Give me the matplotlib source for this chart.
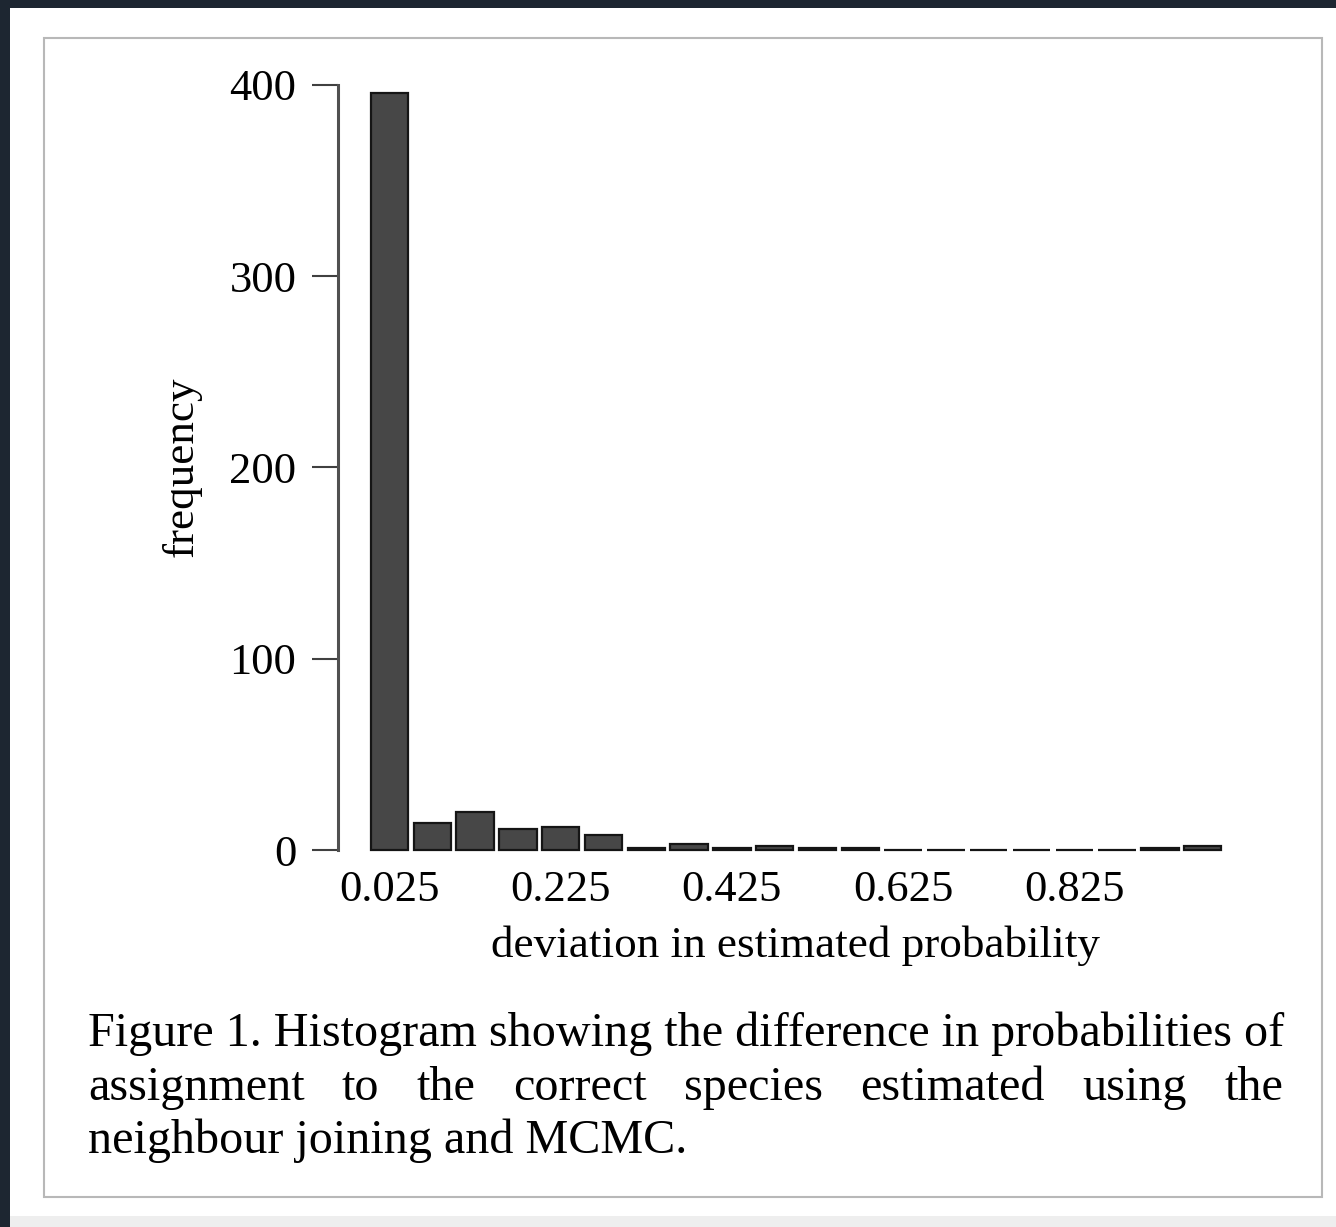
import matplotlib
matplotlib.use("Agg")
import matplotlib.pyplot as plt
from matplotlib.patches import Rectangle
import numpy as np

# ---- data ----
bin_centers = [0.025, 0.075, 0.125, 0.175, 0.225, 0.275, 0.325, 0.375, 0.425, 0.475,
               0.525, 0.575, 0.625, 0.675, 0.725, 0.775, 0.825, 0.875, 0.925, 0.975]
counts = [396, 14, 20, 11, 12, 8, 1, 3, 1, 2, 1, 1, 0, 0, 0, 0, 0, 0, 1, 2]
xtick_values = [0.025, 0.225, 0.425, 0.625, 0.825]
xtick_labels = ["0.025", "0.225", "0.425", "0.625", "0.825"]
ytick_values = [0, 100, 200, 300, 400]
xlabel = "deviation in estimated probability"
ylabel = "frequency"
caption_line1 = "Figure 1. Histogram showing the difference in probabilities of"
caption_line2 = "assignment to the correct species estimated using the"
caption_line3 = "neighbour joining and MCMC."

W, H = 1336, 1227
fig = plt.figure(figsize=(W / 100, H / 100), dpi=100)
fig.patch.set_facecolor("#1d2631")

def fx(px):
    return px / W

def fy(py):
    return 1 - py / H

serif = ["Liberation Serif", "DejaVu Serif"]

# background panels
fig.patches.append(Rectangle((fx(10), 0), 1, fy(8), transform=fig.transFigure,
                             facecolor="white", edgecolor="none", zorder=0))
fig.patches.append(Rectangle((fx(10), 0), 1, fy(1216), transform=fig.transFigure,
                             facecolor="#eeeeee", edgecolor="none", zorder=0.5))
# inner box
fig.patches.append(Rectangle((fx(44), fy(1197)), fx(1322) - fx(44), fy(38) - fy(1197),
                             transform=fig.transFigure, facecolor="white",
                             edgecolor="#b8b8b8", linewidth=1.5, zorder=1))

# axes geometry in pixels
ax_left, ax_right = 338, 1240
y0_px, y400_px = 850, 85
ppu = (y0_px - y400_px) / 400.0
ylo, yhi = -2.0, 402.0
ax_bottom_px = y0_px + (0 - ylo) * ppu
ax_top_px = y400_px - (yhi - 400) * ppu
xppu = 856.0
xlo = 0.025 - (389.5 - ax_left) / xppu
xhi = 0.025 + (ax_right - 389.5) / xppu

ax = fig.add_axes([fx(ax_left), fy(ax_bottom_px), fx(ax_right) - fx(ax_left),
                   fy(ax_top_px) - fy(ax_bottom_px)])
ax.set_facecolor("none")
ax.set_zorder(2)
ax.bar(bin_centers, counts, width=0.0435, color="#474747", edgecolor="#151515",
       linewidth=1.6, align="center", zorder=3)
ax.set_xlim(xlo, xhi)
ax.set_ylim(ylo, yhi)

for s in ["top", "right", "bottom"]:
    ax.spines[s].set_visible(False)
ax.spines["left"].set_bounds(0, 400)
ax.spines["left"].set_color("#505050")
ax.spines["left"].set_linewidth(2.2)

ax.set_yticks(ytick_values)
ax.set_yticklabels([str(v) for v in ytick_values], fontfamily=serif, fontsize=32)
ax.tick_params(axis="y", length=19, width=1.5, color="#404040", pad=11)
ax.set_xticks(xtick_values)
ax.set_xticklabels(xtick_labels, fontfamily=serif, fontsize=32)
ax.tick_params(axis="x", length=0, pad=12)

fig.text(fx(182), fy(467), ylabel, rotation=90, ha="center", va="center",
         fontfamily=serif, fontsize=32.5, color="black")
fig.text(fx(795), fy(946), xlabel, ha="center", va="center",
         fontfamily=serif, fontsize=32.5, color="black")

# caption
cap_left, cap_right = 88, 1283
fig.canvas.draw()
renderer = fig.canvas.get_renderer()

def text_width(s, fs):
    t = fig.text(0, 0, s, fontfamily=serif, fontsize=fs)
    w = t.get_window_extent(renderer=renderer).width
    t.remove()
    return w

base_fs = 28.0
cap_fs = base_fs * (cap_right - cap_left) / text_width(caption_line1, base_fs)

fig.text(fx(cap_left), fy(1046), caption_line1, ha="left", va="baseline",
         fontfamily=serif, fontsize=cap_fs)
fig.text(fx(cap_left), fy(1153), caption_line3, ha="left", va="baseline",
         fontfamily=serif, fontsize=cap_fs)

# justified line 2
words = caption_line2.split()
widths = [text_width(w, cap_fs) for w in words]
gap = (cap_right - cap_left - sum(widths)) / (len(words) - 1)
xpos = cap_left
for w, wd in zip(words, widths):
    fig.text(fx(xpos), fy(1100), w, ha="left", va="baseline",
             fontfamily=serif, fontsize=cap_fs)
    xpos += wd + gap

fig.savefig("out.png", dpi=100, facecolor=fig.get_facecolor())
